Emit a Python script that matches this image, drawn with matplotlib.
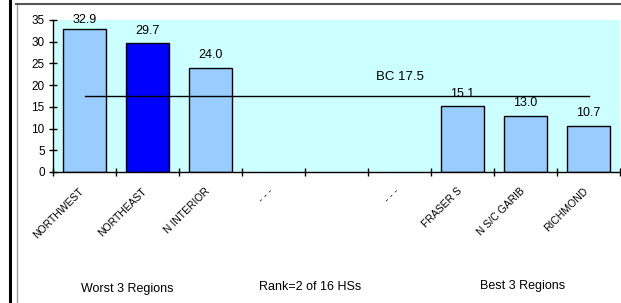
import matplotlib
matplotlib.use('Agg')
import matplotlib.pyplot as plt
import numpy as np
from matplotlib.lines import Line2D

categories = ['NORTHWEST', 'NORTHEAST', 'N INTERIOR', '- - -', '', '- - -',
              'FRASER S', 'N S/C GARIB', 'RICHMOND']
values = [32.9, 29.7, 24.0, None, None, None, 15.1, 13.0, 10.7]
highlight = 'NORTHEAST'
bc_value = 17.5
bottom_labels = ['Worst 3 Regions', 'Rank=2 of 16 HSs', 'Best 3 Regions']

plt.rcParams['font.family'] = ['Liberation Sans', 'DejaVu Sans']

W, H = 621, 303
fig = plt.figure(figsize=(W / 100, H / 100), dpi=100)
ax = fig.add_axes([53 / W, 1 - 172 / H, 567 / W, 152 / H])
ax.set_facecolor('#CCFFFF')

x = np.arange(len(categories))
for i, (c, v) in enumerate(zip(categories, values)):
    if v is None:
        continue
    color = '#0000FF' if c == highlight else '#99CCFF'
    ax.bar(i, v, width=0.67, color=color, edgecolor='black', linewidth=1, zorder=2)
    ax.annotate(f'{v:.1f}', (i, v), xytext=(0, 9 if v < 32 else 6.5),
                textcoords='offset points', ha='center', va='center', fontsize=9)

ax.set_xlim(-0.5, 8.5)
ax.set_ylim(0, 35)
ax.plot([0, 8], [bc_value, bc_value], color='black', lw=1, zorder=3)
ax.text(5, bc_value + 4.4, f'BC {bc_value}', ha='center', va='center', fontsize=9.5)

for s in ['top', 'right']:
    ax.spines[s].set_visible(False)
ax.spines['left'].set_linewidth(1)
ax.spines['bottom'].set_linewidth(1)

ax.set_yticks(np.arange(0, 36, 5))
ax.tick_params(axis='y', direction='inout', length=6, width=1, labelsize=8.5, pad=3)

ax.set_xticks(np.arange(-0.5, 9, 1))
ax.set_xticklabels([])
ax.tick_params(axis='x', which='major', direction='inout', length=6, width=1)
# label anchors sit slightly left of the category centres
ax.set_xticks(x - 0.09, minor=True)
ax.set_xticklabels(categories, minor=True, rotation=45, ha='right',
                   rotation_mode='anchor', fontsize=7.5)
ax.tick_params(axis='x', which='minor', length=0, pad=10)

positions = [(127, 289), (310, 287), (523, 286)]
for (px, py), t in zip(positions, bottom_labels):
    fig.text(px / W, 1 - py / H, t, ha='center', va='center', fontsize=9)

fig.add_artist(Line2D([9.5 / W, 9.5 / W], [0, 1], color='black', lw=2.2,
                      transform=fig.transFigure))
fig.add_artist(Line2D([16.5 / W, 16.5 / W], [0, 1 - 3.5 / H], color='#A0A0A0', lw=1,
                      transform=fig.transFigure))
fig.add_artist(Line2D([16 / W, 1], [1 - 3.5 / H, 1 - 3.5 / H], color='#555555', lw=1.5,
                      transform=fig.transFigure))

fig.savefig('out.png', dpi=100)
